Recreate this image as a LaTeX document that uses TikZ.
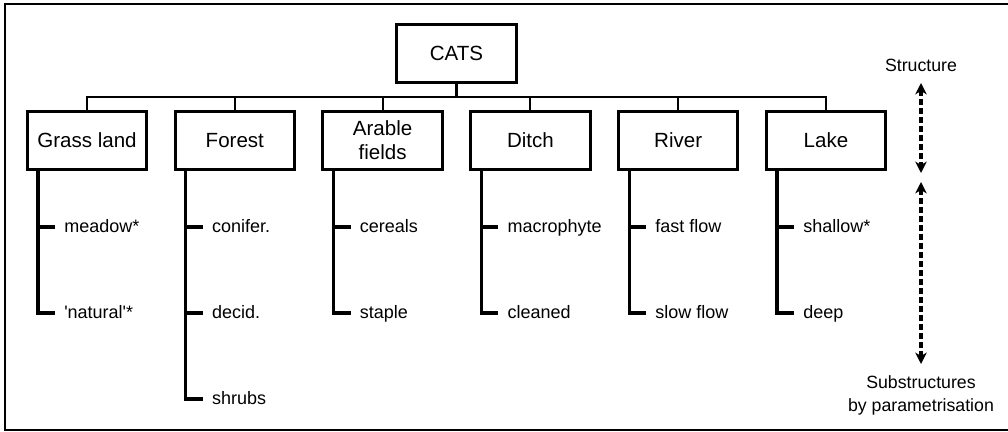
\documentclass[tikz,border=0pt]{standalone}
\usepackage{fontspec}
\setmainfont{Liberation Sans}
\usetikzlibrary{arrows.meta}
\begin{document}
\begin{tikzpicture}[x=0.75pt,y=-0.75pt,
  box/.style={draw,line width=2.2pt,minimum width=89.5pt,minimum height=43.5pt,inner sep=0pt,align=center,font=\fontsize{15.4}{17.8}\selectfont},
  item/.style={anchor=west,inner xsep=6.75pt,inner ysep=0pt,text height=8.5pt,text depth=1pt,font=\fontsize{13.5}{16}\selectfont},
  stem/.style={line width=2.3pt},
  bus/.style={line width=1.6pt},
  lbl/.style={align=center,font=\fontsize{13.3}{17.3}\selectfont},
  darr/.style={line width=2.3pt,dash pattern=on 4.5pt off 2.25pt,{Stealth[length=8.5pt,width=8.5pt,inset=2.5pt]}-{Stealth[length=8.5pt,width=8.5pt,inset=2.5pt]}}]
\useasboundingbox (0,0) rectangle (1008,432);
\draw[line width=1.5pt] (5,4) rectangle (1016,430);
% top
\node[box] (cats) at (456.5,53.5) {CATS};
% boxes
\node[box] (grass) at (87,140.5) {Grass land};
\node[box] (forest) at (234.8,140.5) {Forest};
\node[box] (arable) at (382.6,140.5) {Arable\\fields};
\node[box] (ditch) at (530.4,140.5) {Ditch};
\node[box] (river) at (678.2,140.5) {River};
\node[box] (lake) at (826,140.5) {Lake};
% bus
\coordinate (bus) at (456.5,97);
\draw[bus] (cats.south) -- (bus);
\draw[bus] (grass.north) -- (grass.north |- bus) -- (lake.north |- bus) -- (lake.north);
\foreach \n in {forest,arable,ditch,river} \draw[bus] (\n.north) -- (\n.north |- bus);
% items
\node[item] (meadow) at (55,227) {meadow*};
\node[item] (natural) at (55,313) {\textquotesingle natural\textquotesingle*};
\node[item] (conifer) at (202.8,227) {conifer.};
\node[item] (decid) at (202.8,313) {decid.};
\node[item] (shrubs) at (202.8,399) {shrubs};
\node[item] (cereals) at (350.6,227) {cereals};
\node[item] (staple) at (350.6,313) {staple};
\node[item] (macro) at (498.4,227) {macrophyte};
\node[item] (cleaned) at (498.4,313) {cleaned};
\node[item] (fast) at (646.2,227) {fast flow};
\node[item] (slow) at (646.2,313) {slow flow};
\node[item] (shallow) at (794,227) {shallow*};
\node[item] (deep) at (794,313) {deep};
% stems
\draw[stem] (grass.south -| natural.west) ++(-17,0) coordinate (gs) (gs) |- (natural.west);
\draw[stem] (meadow.west) -- ++(-18,0);
\draw[stem] (forest.south -| shrubs.west) ++(-17,0) coordinate (fs) (fs) |- (shrubs.west);
\draw[stem] (conifer.west) -- ++(-18,0);
\draw[stem] (decid.west) -- ++(-18,0);
\draw[stem] (arable.south -| staple.west) ++(-17,0) coordinate (as) (as) |- (staple.west);
\draw[stem] (cereals.west) -- ++(-18,0);
\draw[stem] (ditch.south -| cleaned.west) ++(-17,0) coordinate (ds) (ds) |- (cleaned.west);
\draw[stem] (macro.west) -- ++(-18,0);
\draw[stem] (river.south -| slow.west) ++(-17,0) coordinate (rs) (rs) |- (slow.west);
\draw[stem] (fast.west) -- ++(-18,0);
\draw[stem] (lake.south -| deep.west) ++(-17,0) coordinate (ls) (ls) |- (deep.west);
\draw[stem] (shallow.west) -- ++(-18,0);
% right labels
\node[lbl] (structure) at (921,65) {Structure};
\node[lbl] (substr) at (921,395.5) {Substructures\\by parametrisation};
\coordinate (a1) at (921,83);
\coordinate (a2) at (921,173);
\coordinate (a3) at (921,182);
\coordinate (a4) at (921,364);
\draw[darr] (a1) -- (a2);
\draw[darr] (a3) -- (a4);
\end{tikzpicture}
\end{document}
